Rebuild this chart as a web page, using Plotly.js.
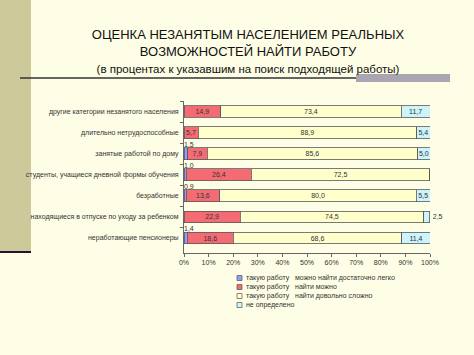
<!DOCTYPE html>
<html><head><meta charset="utf-8">
<script src="https://cdn.plot.ly/plotly-3.0.1.min.js"></script>
<style>html,body{margin:0;padding:0;background:#fefee6;}#chart{width:474px;height:355px;}</style>
</head><body><div id="chart"></div>
<script>
const categories = [
  "другие категории незанятого населения",
  "длительно нетрудоспособные",
  "занятые работой по дому",
  "студенты, учащиеся дневной формы обучения",
  "безработные",
  "находящиеся в отпуске по уходу за ребенком",
  "неработающие пенсионеры"
];
const seriesNames = [
  "такую работу   можно найти достаточно легко",
  "такую работу   найти можно",
  "такую работу   найти довольно сложно",
  "не определено"
];
const easy      = [0, 0, 1.5, 1.0, 0.9, 0, 1.4];
const possible  = [14.9, 5.7, 7.9, 26.4, 13.6, 22.9, 18.6];
const difficult = [73.4, 88.9, 85.6, 72.5, 80.0, 74.5, 68.6];
const undefinedShare = [11.7, 5.4, 5.0, 0, 5.5, 2.5, 11.4];
const xTicks = [0,10,20,30,40,50,60,70,80,90,100];

const colors = ["#9999ff", "#f56b74", "#ffffcc", "#ccf4fb"];
const seriesValues = [easy, possible, difficult, undefinedShare];
const fmt = v => v === 0 ? "" : v.toFixed(1).replace(".", ",");

const traces = seriesValues.map((vals, i) => {
  const t = {
    type: "bar", orientation: "h", name: seriesNames[i],
    y: categories, x: vals,
    marker: {color: colors[i], line: {color: "#5a5a5a", width: 0.8}},
    text: i === 0 ? vals.map(() => "") : vals.map(fmt),
    textfont: {family: "Liberation Sans, Arial", size: 7, color: "#333"},
    insidetextanchor: "middle",
    constraintext: "none",
    cliponaxis: false,
    hoverinfo: "x+y+name",
    showlegend: false
  };
  if (i === 3) t.textposition = vals.map(v => v < 3 ? "outside" : "inside");
  else t.textposition = "inside";
  return t;
});

// labels for tiny first-series values, placed above bar start
const annotations = [];
easy.forEach((v, k) => {
  if (v > 0) annotations.push({
    x: 0, y: categories[k], xref: "x", yref: "y", text: fmt(v), showarrow: false,
    xanchor: "left", yanchor: "bottom", yshift: 4, xshift: -2,
    font: {family: "Liberation Sans, Arial", size: 7, color: "#333"}
  });
});

// custom compact legend
const pxX = px => (px - 184) / 246;
const pxY = py => (253 - py) / 152;
const shapes = [
  {type: "rect", xref: "paper", yref: "paper", x0: pxX(0), x1: pxX(31), y0: pxY(252), y1: pxY(0), fillcolor: "#cdc99b", line: {width: 0}, layer: "below"},
  {type: "line", xref: "paper", yref: "paper", x0: pxX(0), x1: pxX(31), y0: pxY(252), y1: pxY(252), line: {color: "#2a1030", width: 2}},
  {type: "line", xref: "paper", yref: "paper", x0: pxX(20), x1: pxX(356), y0: pxY(78), y1: pxY(78), line: {color: "#333333", width: 1.3}},
  {type: "rect", xref: "paper", yref: "paper", x0: pxX(356), x1: pxX(450), y0: pxY(82), y1: pxY(74), fillcolor: "#a9a6b2", line: {width: 0}}
];
seriesNames.forEach((n, i) => {
  const cy = 278 + i * 9;
  shapes.push({type: "rect", xref: "paper", yref: "paper", x0: pxX(237), x1: pxX(242), y0: pxY(cy + 2.5), y1: pxY(cy - 2.5),
    fillcolor: colors[i], line: {color: "#555", width: 0.7}});
  annotations.push({xref: "paper", yref: "paper", x: pxX(244), y: pxY(cy), text: n, showarrow: false,
    xanchor: "left", yanchor: "middle", font: {family: "Liberation Sans, Arial", size: 7, color: "#333"}});
});

const layout = {
  width: 474, height: 355,
  paper_bgcolor: "#fefee6", plot_bgcolor: "#fefee6",
  margin: {l: 184, r: 44, t: 101, b: 102},
  barmode: "stack", bargap: 0.44,
  showlegend: false,
  title: {
    text: "ОЦЕНКА НЕЗАНЯТЫМ НАСЕЛЕНИЕМ РЕАЛЬНЫХ<br>ВОЗМОЖНОСТЕЙ НАЙТИ РАБОТУ<br><span style='font-size:11.5px'>(в процентах к указавшим на поиск подходящей работы)</span>",
    x: 248/474, xref: "container", xanchor: "center", y: 1 - 39/355, yref: "container", yanchor: "top",
    font: {family: "Liberation Sans, Arial", size: 13, color: "#111"}
  },
  xaxis: {
    range: [0, 100.0005], tickvals: xTicks, ticktext: xTicks.map(v => v + "%"),
    showgrid: false, zeroline: false, showline: true, linecolor: "#666", linewidth: 1,
    ticks: "outside", ticklen: 3, tickcolor: "#666",
    tickfont: {family: "Liberation Sans, Arial", size: 7, color: "#333"}, fixedrange: true
  },
  yaxis: {
    autorange: "reversed", showgrid: false, zeroline: false, showline: true, linecolor: "#666", linewidth: 1,
    ticks: "outside", ticklen: 3, tickcolor: "#666", tickson: "boundaries",
    tickfont: {family: "Liberation Sans, Arial", size: 7, color: "#333"}, ticklabelstandoff: 3
  },
  shapes: shapes,
  annotations: annotations
};
Plotly.newPlot("chart", traces, layout, {displayModeBar: false, staticPlot: true});
</script>
</body></html>
